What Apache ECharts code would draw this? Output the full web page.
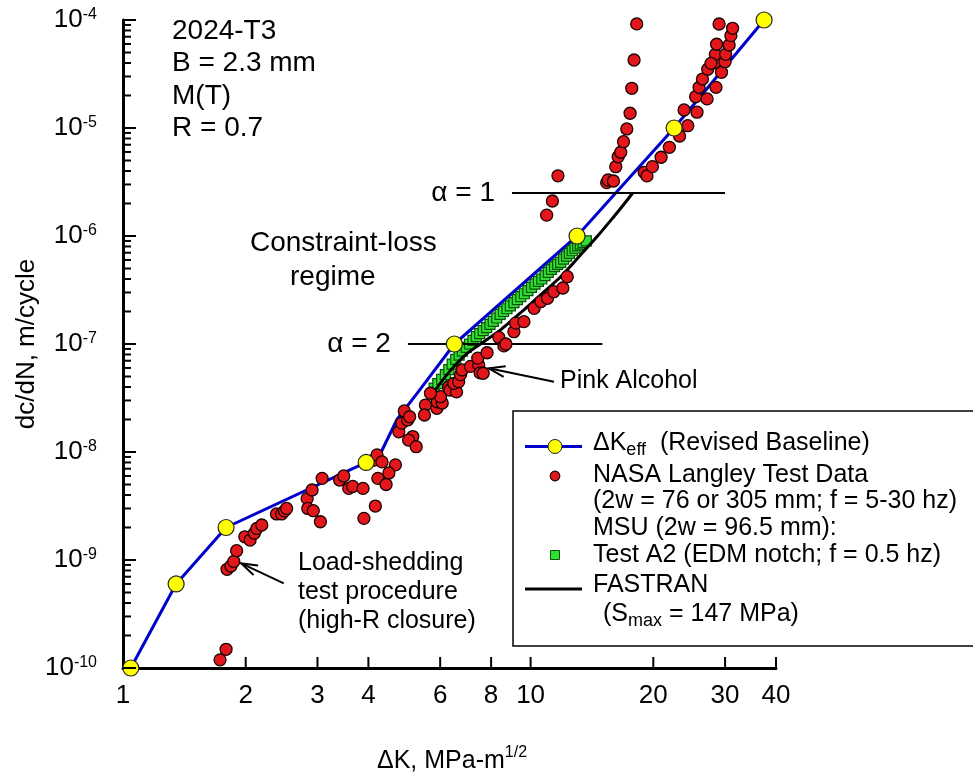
<!DOCTYPE html>
<html>
<head>
<meta charset="utf-8">
<title>dc/dN vs ΔK — 2024-T3, R = 0.7</title>
<script src="https://cdn.jsdelivr.net/npm/echarts@6/dist/echarts.min.js"></script>
<style>
  html, body { margin: 0; padding: 0; background: #ffffff; }
  #chart { width: 973px; height: 775px; }
</style>
</head>
<body>
<div id="chart"></div>
<script>
const FONT = '"Liberation Sans", Arial, Helvetica, sans-serif';

// ΔKeff revised baseline (marked points carry a yellow symbol)
const keffK      = [1.045, 1.35, 1.79, 3.95, 4.3, 4.7, 5.3, 6.5, 13.0, 22.5, 37.4];
const keffRate   = [1e-10, 6e-10, 2e-9, 8e-9, 1e-8, 2.0e-8, 3.6e-8, 1e-7, 1e-6, 1e-5, 1e-4];
const keffMarked = [1, 1, 1, 1, 0, 0, 0, 1, 1, 1, 1];

// NASA Langley test data
const nasaK = [
  1.73, 1.79, 1.80, 1.84, 1.87, 1.90, 1.99, 2.05, 2.10, 2.13, 2.19, 2.38, 2.45, 2.49, 2.52,
  2.83, 2.91, 2.84, 2.93, 3.05, 3.08, 3.40, 3.48, 3.58, 3.66, 3.88, 3.90, 4.16, 4.12, 4.20,
  4.32, 4.66, 4.49, 4.22, 4.42,
  4.75, 4.83, 4.99, 4.90, 5.05, 5.14, 5.02, 5.24, 5.52, 5.49, 5.89, 5.90, 6.07, 6.01, 5.68,
  6.29, 6.34, 6.58, 6.48, 6.66, 6.73, 6.79, 7.12, 7.46, 7.52, 7.65, 7.42, 7.82, 8.36, 8.6,
  8.7, 9.1, 9.19, 9.63, 10.2, 10.6, 11.0, 11.4, 12.0, 12.3,
  10.95, 11.31, 11.67, 15.37, 15.49, 15.97, 16.18, 16.4, 16.64, 16.9, 17.22, 17.54, 17.71, 17.94, 18.21,
  19.0, 19.3, 19.9, 20.9, 21.9, 23.2, 24.3, 23.8, 25.6, 25.4, 27.1, 25.9, 28.5, 26.4, 27.2,
  29.4, 28.3, 30.0, 28.4, 30.1, 28.6, 30.7, 31.0, 31.3, 29.0, 27.7
];
const nasaRate = [
  1.19e-10, 1.49e-10, 8.2e-10, 8.8e-10, 9.7e-10, 1.22e-9, 1.64e-9, 1.53e-9, 1.77e-9, 1.96e-9, 2.11e-9, 2.67e-9, 2.67e-9, 2.85e-9, 3.0e-9,
  3.7e-9, 4.45e-9, 3.0e-9, 2.86e-9, 2.26e-9, 5.7e-9, 5.5e-9, 6.0e-9, 4.6e-9, 4.8e-9, 4.6e-9, 2.43e-9, 3.16e-9, 8.4e-9, 9.4e-9,
  8.1e-9, 7.6e-9, 6.4e-9, 5.7e-9, 5.0e-9,
  1.54e-8, 1.85e-8, 1.98e-8, 2.4e-8, 2.12e-8, 1.39e-8, 1.29e-8, 1.12e-8, 2.72e-8, 2.2e-8, 2.54e-8, 2.92e-8, 2.84e-8, 3.25e-8, 3.5e-8,
  4.0e-8, 3.75e-8, 3.6e-8, 4.32e-8, 4.47e-8, 5.2e-8, 5.75e-8, 6.2e-8, 6.4e-8, 5.4e-8, 5.36e-8, 7.4e-8, 8.3e-8, 1.15e-7, 9.6e-8,
  1.0e-7, 1.3e-7, 1.56e-7, 1.61e-7, 2.14e-7, 2.47e-7, 2.65e-7, 3.05e-7, 3.3e-7, 4.2e-7,
  1.56e-6, 2.11e-6, 3.61e-6, 3.12e-6, 3.3e-6, 3.23e-6, 4.38e-6, 5.42e-6, 5.96e-6, 7.47e-6, 9.8e-6, 1.37e-5, 2.33e-5, 4.26e-5, 9.2e-5,
  3.89e-6, 3.6e-6, 4.39e-6, 5.36e-6, 6.63e-6, 8.43e-6, 1.05e-5, 1.47e-5, 1.4e-5, 1.95e-5, 1.86e-5, 2.38e-5, 2.38e-5, 2.84e-5, 3.5e-5,
  3.28e-5, 4.03e-5, 4.11e-5, 4.81e-5, 4.81e-5, 5.96e-5, 5.87e-5, 7.16e-5, 8.38e-5, 9.18e-5, 3.97e-5
];

// MSU Test A2 (EDM notch)
const msuK = [
  5.80, 5.92, 6.05, 6.18, 6.30, 6.42, 6.55, 6.68, 6.80, 6.95, 7.08, 7.22, 7.36, 7.50, 7.65, 7.80,
  7.95, 8.10, 8.26, 8.42, 8.58, 8.75, 8.92, 9.10, 9.28, 9.46, 9.65, 9.85, 10.05, 10.25, 10.45, 10.65,
  10.85, 11.05, 11.25, 11.45, 11.65, 11.85, 12.05, 12.25, 12.45, 12.65, 12.85, 13.05, 13.25, 13.45, 13.70
];
const msuRate = [
  3.9e-8, 4.3e-8, 4.7e-8, 5.2e-8, 5.8e-8, 6.5e-8, 7.2e-8, 7.9e-8, 8.6e-8, 9.3e-8, 1.0e-7, 1.08e-7, 1.17e-7, 1.25e-7, 1.33e-7, 1.42e-7,
  1.52e-7, 1.62e-7, 1.74e-7, 1.88e-7, 2.0e-7, 2.12e-7, 2.25e-7, 2.42e-7, 2.58e-7, 2.75e-7, 2.92e-7, 3.12e-7, 3.35e-7, 3.58e-7, 3.8e-7, 4.0e-7,
  4.3e-7, 4.6e-7, 4.9e-7, 5.2e-7, 5.45e-7, 5.7e-7, 6.1e-7, 6.5e-7, 6.9e-7, 7.3e-7, 7.7e-7, 8.1e-7, 8.4e-7, 8.7e-7, 9.0e-7
];

// FASTRAN prediction (Smax = 147 MPa)
const fastranK    = [5.79, 6.36, 6.99, 7.68, 8.44, 9.63, 10.7, 11.85, 13.27, 14.6, 16.0, 17.0, 17.8];
const fastranRate = [3.6e-8, 5.7e-8, 8.2e-8, 1.05e-7, 1.35e-7, 2.07e-7, 2.96e-7, 4.2e-7, 6.7e-7, 1.0e-6, 1.51e-6, 2.0e-6, 2.5e-6];

// constraint factor reference levels
const alphaLabels = ['α = 1', 'α = 2'];
const alphaRate   = [2.5e-6, 1e-7];
const alphaFromK  = [9, 5];
const alphaToK    = [30, 15];

// annotation arrows (tail -> tip)
const arrowFromK    = [11.41, 2.48];
const arrowFromRate = [4.48e-8, 6.08e-10];
const arrowToK      = [7.90, 1.95];
const arrowToRate   = [5.96e-8, 9.3e-10];

// axis ticks
const xTickValues       = [1, 2, 3, 4, 6, 8, 10, 20, 30, 40];
const yDecadeExponents  = [-10, -9, -8, -7, -6, -5, -4];
const yMinorMantissas   = [2, 3, 4, 5, 6, 7, 8, 9];

const pairs = (xs, ys) => xs.map((x, i) => [x, ys[i]]);

const keffLine = pairs(keffK, keffRate);
const keffSymbols = keffLine.filter((_, i) => keffMarked[i]);

const yMajor = yDecadeExponents.map(e => [1, Math.pow(10, e)]);
const yMinor = [];
yDecadeExponents.slice(0, -1).forEach(e => {
  yMinorMantissas.forEach(m => yMinor.push([1, Number((m * Math.pow(10, e)).toPrecision(3))]));
});

const chart = echarts.init(document.getElementById('chart'), null, { renderer: 'canvas' });

const txt = (x, y, text, size, extra) => Object.assign({
  type: 'text', x: x, y: y, z: 100,
  style: Object.assign({ text: text, fontFamily: FONT, fontSize: size, fill: '#000',
                         align: 'left', verticalAlign: 'middle' }, (extra && extra.style) || {})
}, extra ? { rotation: extra.rotation || 0 } : {});

const legendRich = {
  a:   { fontFamily: FONT, fontSize: 25, lineHeight: 25, padding: [0, 0, 6, 0], fill: '#000' },
  sub: { fontFamily: FONT, fontSize: 18, lineHeight: 18, verticalAlign: 'bottom', fill: '#000' }
};

const option = {
  animation: false,
  backgroundColor: '#ffffff',
  grid: { left: 123, right: 197, top: 20, bottom: 107, containLabel: false, outerBoundsMode: 'none' },
  xAxis: {
    type: 'log', logBase: 10, min: 1, max: 40,
    axisLine: { show: true, onZero: false, lineStyle: { color: '#000', width: 3 } },
    axisTick: { show: false }, axisLabel: { show: false },
    splitLine: { show: false }, minorTick: { show: false }, minorSplitLine: { show: false }
  },
  yAxis: {
    type: 'log', logBase: 10, min: 1e-10, max: 1e-4,
    axisLine: { show: true, onZero: false, lineStyle: { color: '#000', width: 3 } },
    axisTick: { show: false }, axisLabel: { show: false },
    splitLine: { show: false }, minorTick: { show: false }, minorSplitLine: { show: false }
  },
  series: [
    {
      name: 'ΔKeff (Revised Baseline)', type: 'line', data: keffLine, z: 2, clip: false,
      showSymbol: false, symbol: 'none', lineStyle: { color: '#0000cc', width: 3 }, silent: true
    },
    {
      name: 'Test A2', type: 'scatter', data: pairs(msuK, msuRate), z: 3, clip: false,
      symbol: 'rect', symbolSize: 10,
      itemStyle: { color: '#2fe02f', borderColor: '#0a4f0a', borderWidth: 1.2, opacity: 1 }, silent: true
    },
    {
      name: 'FASTRAN', type: 'line', data: pairs(fastranK, fastranRate), z: 4, clip: false,
      smooth: 0.3, showSymbol: false, symbol: 'none', lineStyle: { color: '#000', width: 3 }, silent: true
    },
    {
      name: 'NASA Langley Test Data', type: 'scatter', data: pairs(nasaK, nasaRate), z: 5, clip: false,
      symbol: 'circle', symbolSize: 12,
      itemStyle: { color: '#e3161b', borderColor: '#1a0000', borderWidth: 1.3, opacity: 1 }, silent: true
    },
    {
      name: 'ΔKeff points', type: 'scatter', data: keffSymbols, z: 6, clip: false,
      symbol: 'circle', symbolSize: 16,
      itemStyle: { color: '#ffff00', borderColor: '#222', borderWidth: 1.2, opacity: 1 }, silent: true
    },
    {
      // α reference lines with their labels
      type: 'custom', z: 4, clip: false, silent: true,
      data: alphaFromK.map((k, i) => [k, alphaRate[i], alphaToK[i]]),
      encode: { x: [0, 2], y: 1 },
      renderItem(params, api) {
        const a = api.coord([api.value(0), api.value(1)]);
        const b = api.coord([api.value(2), api.value(1)]);
        return { type: 'group', children: [
          { type: 'line', shape: { x1: a[0], y1: a[1], x2: b[0], y2: b[1] },
            style: { stroke: '#000', lineWidth: 2 } },
          { type: 'text', x: a[0] - 17, y: a[1],
            style: { text: alphaLabels[params.dataIndex], fontFamily: FONT, fontSize: 28,
                     fill: '#000', align: 'right', verticalAlign: 'middle' } }
        ] };
      }
    },
    {
      // annotation arrows (open V heads)
      type: 'custom', z: 7, clip: false, silent: true,
      data: arrowFromK.map((k, i) => [k, arrowFromRate[i], arrowToK[i], arrowToRate[i]]),
      encode: { x: [0, 2], y: [1, 3] },
      renderItem(params, api) {
        const t = api.coord([api.value(0), api.value(1)]);
        const h = api.coord([api.value(2), api.value(3)]);
        const ang = Math.atan2(t[1] - h[1], t[0] - h[0]);
        const L = 17, s = 0.32;
        const p1 = [h[0] + L * Math.cos(ang + s), h[1] + L * Math.sin(ang + s)];
        const p2 = [h[0] + L * Math.cos(ang - s), h[1] + L * Math.sin(ang - s)];
        return { type: 'group', children: [
          { type: 'line', shape: { x1: t[0], y1: t[1], x2: h[0], y2: h[1] },
            style: { stroke: '#000', lineWidth: 2 } },
          { type: 'polyline', shape: { points: [p1, h, p2] },
            style: { stroke: '#000', lineWidth: 2, fill: null } }
        ] };
      }
    },
    {
      // x-axis ticks and labels
      type: 'custom', z: 10, clip: false, silent: true,
      data: xTickValues.map(v => [v, 1e-10]),
      renderItem(params, api) {
        const p = api.coord([api.value(0), api.value(1)]);
        const children = [
          { type: 'text', x: p[0], y: p[1] + 28,
            style: { text: String(xTickValues[params.dataIndex]), fontFamily: FONT, fontSize: 26,
                     fill: '#000', align: 'center', verticalAlign: 'middle' } }
        ];
        if (params.dataIndex > 0) {
          children.push({ type: 'line', shape: { x1: p[0], y1: p[1], x2: p[0], y2: p[1] - 11 },
                          style: { stroke: '#000', lineWidth: 2 } });
        }
        return { type: 'group', children };
      }
    },
    {
      // y-axis decade ticks and labels
      type: 'custom', z: 10, clip: false, silent: true,
      data: yMajor,
      renderItem(params, api) {
        const p = api.coord([api.value(0), api.value(1)]);
        const e = yDecadeExponents[params.dataIndex];
        return { type: 'group', children: [
          { type: 'line', shape: { x1: p[0], y1: p[1], x2: p[0] + 13, y2: p[1] },
            style: { stroke: '#000', lineWidth: 2 } },
          { type: 'text', x: p[0] - 26, y: p[1],
            style: { text: '{b|10}{s|' + e + '}', align: 'right', verticalAlign: 'middle',
                     rich: {
                       b: { fontFamily: FONT, fontSize: 26, lineHeight: 26, fill: '#000' },
                       s: { fontFamily: FONT, fontSize: 16, lineHeight: 16, verticalAlign: 'top', fill: '#000' }
                     } } }
        ] };
      }
    },
    {
      // y-axis minor ticks
      type: 'custom', z: 10, clip: false, silent: true,
      data: yMinor,
      renderItem(params, api) {
        const p = api.coord([api.value(0), api.value(1)]);
        return { type: 'line', shape: { x1: p[0], y1: p[1], x2: p[0] + 8, y2: p[1] },
                 style: { stroke: '#000', lineWidth: 2 } };
      }
    }
  ],
  graphic: [
    // axis titles
    txt(27, 344, 'dc/dN, m/cycle', 26, { rotation: Math.PI / 2, style: { align: 'center' } }),
    {
      type: 'text', x: 452, y: 757, z: 100,
      style: { text: '{m|ΔK, MPa-m}{s|1/2}', align: 'center', verticalAlign: 'middle',
               rich: {
                 m: { fontFamily: FONT, fontSize: 25, lineHeight: 25, padding: [9, 0, 0, 0], fill: '#000' },
                 s: { fontFamily: FONT, fontSize: 16, lineHeight: 16, verticalAlign: 'top', fill: '#000' }
               } }
    },
    // material / specimen block
    txt(172, 31, '2024-T3', 28),
    txt(172, 63.5, 'B = 2.3 mm', 28),
    txt(172, 96, 'M(T)', 28),
    txt(172, 128.5, 'R = 0.7', 28),
    // regime notes
    txt(250, 243, 'Constraint-loss', 28),
    txt(290, 277, 'regime', 28),
    txt(560, 381, 'Pink Alcohol', 25),
    txt(298, 563, 'Load-shedding', 25),
    txt(298, 592, 'test procedure', 25),
    txt(298, 621, '(high-R closure)', 25),
    // legend box
    { type: 'rect', z: 100, shape: { x: 513, y: 411, width: 480, height: 235 },
      style: { fill: '#ffffff', stroke: '#000', lineWidth: 1.5 } },
    { type: 'line', z: 101, shape: { x1: 525, y1: 446.5, x2: 582, y2: 446.5 },
      style: { stroke: '#0000cc', lineWidth: 3 } },
    { type: 'circle', z: 102, shape: { cx: 555, cy: 446.5, r: 7 },
      style: { fill: '#ffff00', stroke: '#222', lineWidth: 1 } },
    { type: 'circle', z: 101, shape: { cx: 555, cy: 476, r: 4.8 },
      style: { fill: '#e3161b', stroke: '#1a0000', lineWidth: 1.2 } },
    { type: 'rect', z: 101, shape: { x: 550.5, y: 550.5, width: 9, height: 9 },
      style: { fill: '#2fe02f', stroke: '#0a4f0a', lineWidth: 1 } },
    { type: 'line', z: 101, shape: { x1: 525, y1: 589, x2: 582, y2: 589 },
      style: { stroke: '#000', lineWidth: 3 } },
    { type: 'text', x: 593, y: 446.5, z: 101,
      style: { text: '{a|ΔK}{sub|eff}{a|  (Revised Baseline)}', verticalAlign: 'middle', align: 'left', rich: legendRich } },
    txt(593, 475, 'NASA Langley Test Data', 25),
    txt(593, 501, '(2w = 76 or 305 mm; f = 5-30 hz)', 25),
    txt(593, 528, 'MSU (2w = 96.5 mm):', 25),
    txt(593, 555, 'Test A2 (EDM notch; f = 0.5 hz)', 25),
    txt(593, 585, 'FASTRAN', 25),
    { type: 'text', x: 603, y: 617.3, z: 101,
      style: { text: '{a|(S}{sub|max}{a| = 147 MPa)}', verticalAlign: 'middle', align: 'left', rich: legendRich } }
  ]
};

// legend texts sit above the legend box
option.graphic.forEach(g => { if (g.type === 'text' && g.x >= 590) g.z = 101; });

chart.setOption(option);
</script>
</body>
</html>
